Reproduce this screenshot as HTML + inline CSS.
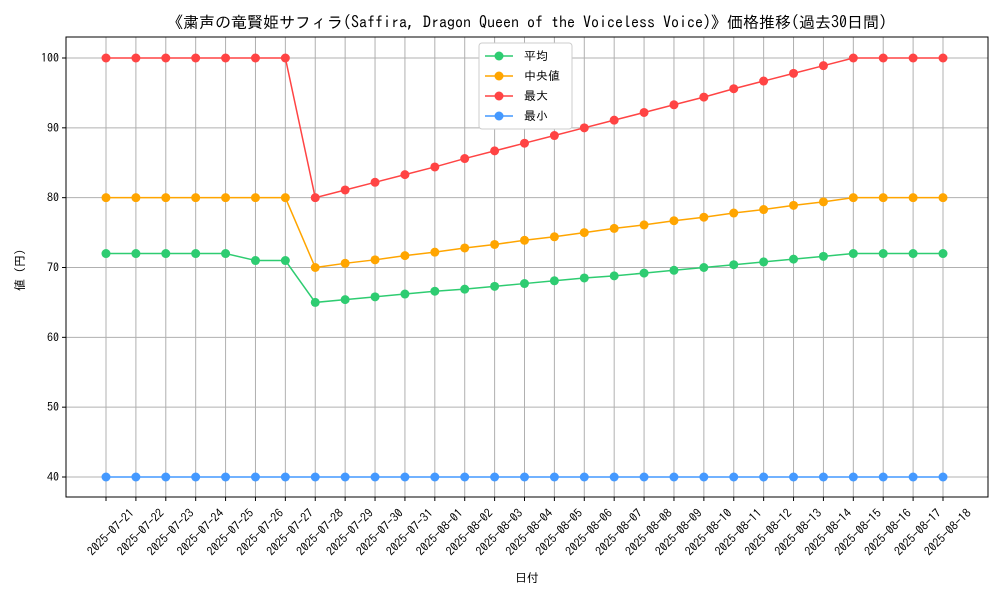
<!DOCTYPE html>
<html><head><meta charset="utf-8">
<style>
body{margin:0;background:#fff;}
svg text{font-family:"IPAGothic","Noto Sans CJK JP",sans-serif;fill:#000;}
</style></head>
<body>
<svg id="chart" width="1000" height="600" xmlns="http://www.w3.org/2000/svg">
<rect width="1000" height="600" fill="#fff"/>
<text x="527" y="28" font-size="16" text-anchor="middle">《粛声の竜賢姫サフィラ(Saffira, Dragon Queen of the Voiceless Voice)》価格推移(過去30日間)</text>
<g id="grid"></g>
<g id="series"></g>
<rect x="66" y="37" width="922" height="460" fill="none" stroke="#000" stroke-width="1"/>
<g id="axes"></g>
<text x="527" y="582" font-size="12" text-anchor="middle">日付</text>
<text transform="translate(24,267) rotate(-90)" font-size="12" text-anchor="middle">値（円）</text>
<g id="legend"></g>
</svg>
<script>
const dates=["2025-07-21","2025-07-22","2025-07-23","2025-07-24","2025-07-25","2025-07-26","2025-07-27","2025-07-28","2025-07-29","2025-07-30","2025-07-31","2025-08-01","2025-08-02","2025-08-03","2025-08-04","2025-08-05","2025-08-06","2025-08-07","2025-08-08","2025-08-09","2025-08-10","2025-08-11","2025-08-12","2025-08-13","2025-08-14","2025-08-15","2025-08-16","2025-08-17","2025-08-18"];
const meanVals=[72,72,72,72,72,71,71,65,65.4,65.8,66.2,66.6,66.9,67.3,67.7,68.1,68.5,68.8,69.2,69.6,70.0,70.4,70.8,71.2,71.6,72,72,72,72];
const medianVals=[80,80,80,80,80,80,80,70,70.6,71.1,71.7,72.2,72.8,73.3,73.9,74.4,75,75.6,76.1,76.7,77.2,77.8,78.3,78.9,79.4,80,80,80,80];
const maxVals=[100,100,100,100,100,100,100,80,81.1,82.2,83.3,84.4,85.6,86.7,87.8,88.9,90,91.1,92.2,93.3,94.4,95.6,96.7,97.8,98.9,100,100,100,100];
const minVals=[40,40,40,40,40,40,40,40,40,40,40,40,40,40,40,40,40,40,40,40,40,40,40,40,40,40,40,40,40];
const yTicks=[40,50,60,70,80,90,100];
const seriesNames=["平均","中央値","最大","最小"];
const colors=["#2ecc71","#ffa500","#ff4444","#4499ff"];

const NS="http://www.w3.org/2000/svg";
const xS=i=>106+i*(943-106)/(dates.length-1);
const yS=v=>477-(v-40)*(477-58)/60;
function mk(tag,attrs,parent){const e=document.createElementNS(NS,tag);for(const k in attrs)e.setAttribute(k,attrs[k]);parent.appendChild(e);return e;}
const grid=document.getElementById('grid'),axes=document.getElementById('axes'),ser=document.getElementById('series'),leg=document.getElementById('legend');
dates.forEach((d,i)=>{
  const g=mk('line',{x1:xS(i),x2:xS(i),y1:37,y2:497,stroke:'#b0b0b0','stroke-width':1},grid);
  
  
  const t=mk('line',{x1:xS(i),x2:xS(i),y1:497,y2:501,stroke:'#000'},axes);
  
  
  const ax=xS(i)+26, ay=511;
  const l=mk('text',{x:ax,y:ay,'font-size':12,'text-anchor':'end',transform:`rotate(-45 ${ax} ${ay})`,'dominant-baseline':'central'},axes);
  l.textContent=d;
  
  
});
yTicks.forEach(v=>{
  const g=mk('line',{x1:66,x2:988,y1:yS(v),y2:yS(v),stroke:'#b0b0b0','stroke-width':1},grid);
  
  
  const t=mk('line',{x1:62,x2:66,y1:yS(v),y2:yS(v),stroke:'#000'},axes);
  
  
  const l=mk('text',{x:59,y:yS(v)+4,'font-size':12,'text-anchor':'end'},axes);
  l.textContent=v;
  
  
});
[meanVals,medianVals,maxVals,minVals].forEach((vals,s)=>{
  const g=mk('g',{},ser);
  
  
  const p=mk('polyline',{points:vals.map((v,i)=>xS(i)+','+yS(v)).join(' '),fill:'none',stroke:colors[s],'stroke-width':1.5},g);
  
  
  vals.forEach((v,i)=>{
    const c=mk('circle',{cx:xS(i),cy:yS(v),r:4.5,fill:colors[s]},g);
    
    
  });
});
const lb=mk('rect',{x:479,y:43,width:93,height:86,fill:'#fff',stroke:'#ccc',rx:3},leg);


seriesNames.forEach((n,i)=>{
  const y=56+i*20;
  const g=mk('g',{},leg);
  
  
  mk('line',{x1:485,x2:513,y1:y,y2:y,stroke:colors[i],'stroke-width':1.5},g);
  mk('circle',{cx:499,cy:y,r:4.5,fill:colors[i]},g);
  const t=mk('text',{x:524,y:y+4,'font-size':12},g);
  t.textContent=n;
});
</script>
</body></html>
